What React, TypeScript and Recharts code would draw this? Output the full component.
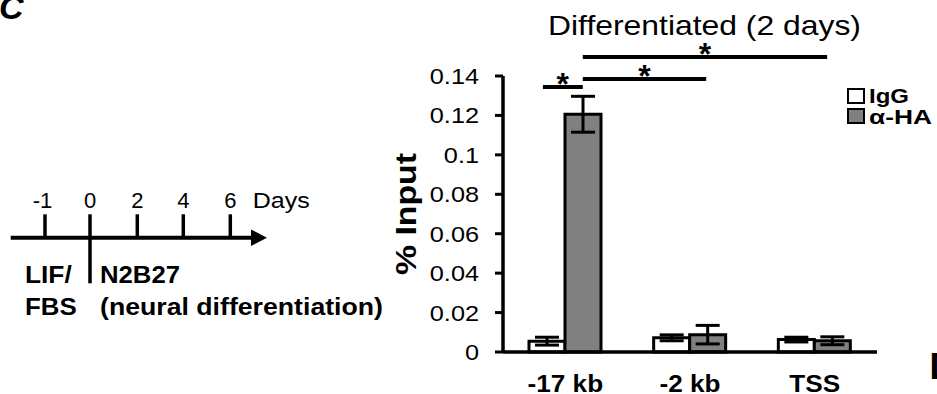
import React from "react";
import { BarChart, Bar, XAxis, YAxis, ErrorBar, ReferenceLine, Legend } from "recharts";

const SITES = ["-17 kb", "-2 kb", "TSS"];
const IGG = [0.0055, 0.0072, 0.0063];
const IGG_ERR = [0.002, 0.0015, 0.0012];
const HA = [0.1206, 0.0088, 0.0057];
const HA_ERR = [0.0091, 0.0047, 0.002];
const Y_TICKS = [0, 0.02, 0.04, 0.06, 0.08, 0.1, 0.12, 0.14];

// significance bars, x in site-index units, y in % input
const SIG_FROM = [-0.18, 0.14, 0.14];
const SIG_TO = [0.14, 1.13, 2.1];
const SIG_Y = [0.1344, 0.1385, 0.1497];

const DAYS = ["-1", "0", "2", "4", "6"];

const data = SITES.map((site, i) => ({
  site,
  idx: i,
  igg: IGG[i],
  iggErr: IGG_ERR[i],
  ha: HA[i],
  haErr: HA_ERR[i],
}));

const FONT = '"Liberation Sans", Arial, sans-serif';

// eslint-disable-next-line @typescript-eslint/no-explicit-any
const YTick = ({ x, y, payload }: any) => (
  <g transform={`translate(${x},${y}) scale(1.15,1)`}>
    <text textAnchor="end" dy="0.36em" fontSize={22} fill="#000">
      {String(payload.value)}
    </text>
  </g>
);

// eslint-disable-next-line @typescript-eslint/no-explicit-any
const XTick = ({ x, y, payload }: any) => (
  <g transform={`translate(${x},${y}) scale(1.09,1)`}>
    <text textAnchor="middle" y={40} fontSize={24} fontWeight={700} fill="#000">
      {payload.value}
    </text>
  </g>
);

// eslint-disable-next-line @typescript-eslint/no-explicit-any
const LegendBox = ({ payload }: any) => (
  <svg width={92} height={44} style={{ fontFamily: FONT }}>
    {(payload || []).map((p: any, i: number) => (
      <g key={p.value}>
        <rect x={3} y={4 + i * 20} width={16} height={14} fill={p.color} stroke="#000" strokeWidth={2} />
        <text
          x={24}
          y={18 + i * 20.5}
          fontSize={21}
          fontWeight={700}
          fill="#000"
          textLength={i === 0 ? 40 : 63}
          lengthAdjust="spacingAndGlyphs"
        >
          {p.value}
        </text>
      </g>
    ))}
  </svg>
);

const dayX = [45, 90, 137.3, 183.3, 230.3];

export default function App() {
  return (
    <div style={{ position: "absolute", left: 0, top: 0, width: 937, height: 394, fontFamily: FONT, background: "#fff" }}>
      <BarChart
        width={937}
        height={394}
        data={data}
        margin={{ top: 76, right: 60, bottom: 0, left: 0 }}
        barGap={0}
        barSize={36}
      >
        <XAxis
          xAxisId="c"
          dataKey="site"
          tick={<XTick />}
          tickLine={false}
          tickSize={0}
          tickMargin={0}
          height={42}
          axisLine={{ stroke: "#000", strokeWidth: 3.3 }}
        />
        <XAxis xAxisId="n" dataKey="idx" type="number" domain={[-0.5, 2.5]} allowDataOverflow hide />
        <YAxis
          domain={[0, 0.14]}
          ticks={Y_TICKS}
          interval={0}
          width={503}
          tickSize={8}
          tickMargin={16}
          tick={<YTick />}
          tickLine={{ stroke: "#000", strokeWidth: 3 }}
          axisLine={{ stroke: "#000", strokeWidth: 3.5 }}
        />
        <Legend
          layout="vertical"
          align="center"
          verticalAlign="middle"
          content={<LegendBox />}
          wrapperStyle={{ left: 845, top: 85, width: 92 }}
        />
        <Bar xAxisId="c" dataKey="igg" name="IgG" fill="#ffffff" stroke="#000" strokeWidth={3} isAnimationActive={false}>
          <ErrorBar dataKey="iggErr" width={12} stroke="#000" strokeWidth={3} />
        </Bar>
        <Bar xAxisId="c" dataKey="ha" name="α-HA" fill="#808080" stroke="#000" strokeWidth={3} isAnimationActive={false}>
          <ErrorBar dataKey="haErr" width={12} stroke="#000" strokeWidth={3} />
        </Bar>
        {SIG_Y.map((y, i) => (
          <ReferenceLine
            key={i}
            xAxisId="n"
            segment={[
              { x: SIG_FROM[i], y },
              { x: SIG_TO[i], y },
            ]}
            ifOverflow="visible"
            stroke="#000"
            strokeWidth={4}
            label={{ value: "*", position: "top", offset: -8, fontSize: 32, fontWeight: 700, fill: "#000" }}
          />
        ))}
      </BarChart>

      <svg
        width={937}
        height={394}
        style={{ position: "absolute", left: 0, top: 0, pointerEvents: "none", fontFamily: FONT }}
      >
        <text x={-1} y={19} fontSize={34} fontWeight={700} fontStyle="italic" fill="#000">C</text>
        <text x={929.5} y={379} fontSize={36} fontWeight={700} fill="#000">D</text>

        <text x={704.5} y={35} textAnchor="middle" fontSize={28} fill="#000" textLength={313} lengthAdjust="spacingAndGlyphs">
          Differentiated (2 days)
        </text>
        <text
          transform="translate(416,214) rotate(-90)"
          textAnchor="middle"
          fontSize={29}
          fontWeight={700}
          fill="#000"
          textLength={122}
          lengthAdjust="spacingAndGlyphs"
        >
          % Input
        </text>

        {/* timeline schematic */}
        <line x1={10.7} y1={237.7} x2={253} y2={237.7} stroke="#000" strokeWidth={4} />
        <polygon points="251,229.5 267,237.7 251,246" fill="#000" />
        {dayX.map((x, i) => (
          <g key={i}>
            <line x1={x} y1={214.3} x2={x} y2={DAYS[i] === "0" ? 283.3 : 237.7} stroke="#000" strokeWidth={3.5} />
            <text x={i === 0 ? x - 2.5 : x} y={208.3} textAnchor="middle" fontSize={22} fill="#000">
              {DAYS[i]}
            </text>
          </g>
        ))}
        <text x={252.7} y={208.3} fontSize={22} fill="#000" textLength={57} lengthAdjust="spacingAndGlyphs">Days</text>
        <text x={25} y={283.3} fontSize={23.5} fontWeight={700} fill="#000" textLength={46.7} lengthAdjust="spacingAndGlyphs">LIF/</text>
        <text x={25} y={315} fontSize={23.5} fontWeight={700} fill="#000" textLength={51.7} lengthAdjust="spacingAndGlyphs">FBS</text>
        <text x={100} y={283.3} fontSize={23.5} fontWeight={700} fill="#000" textLength={80} lengthAdjust="spacingAndGlyphs">N2B27</text>
        <text x={100} y={315} fontSize={23.5} fontWeight={700} fill="#000" textLength={283} lengthAdjust="spacingAndGlyphs">
          (neural differentiation)
        </text>
      </svg>
    </div>
  );
}
